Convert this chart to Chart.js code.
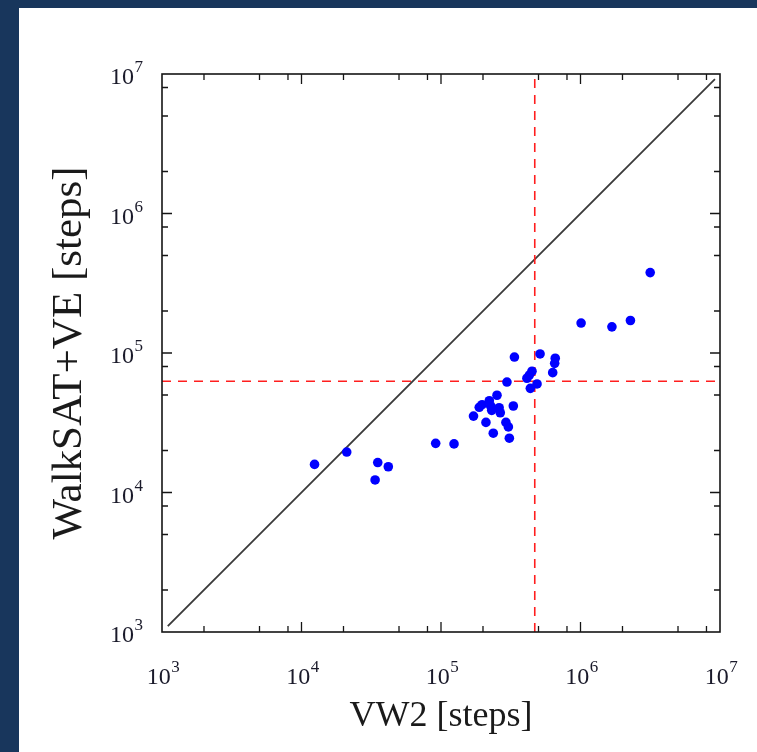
<!DOCTYPE html>
<html>
<head>
<meta charset="utf-8">
<script src="https://cdn.jsdelivr.net/npm/chart.js@4"></script>
<style>
  html, body { margin: 0; padding: 0; background: #18365c; }
  #wrap { position: absolute; left: 19px; top: 8px; width: 738px; height: 744px; background: #fff; }
</style>
</head>
<body>
<div id="wrap"><canvas id="scatterChart" width="738" height="744"></canvas></div>
<script>
// VW2 steps (x) vs WalkSAT+VE steps (y), one entry per instance
const vw2Steps = [
  1.24e4, 2.11e4, 3.52e4, 4.19e4, 3.37e4, 9.16e4, 1.24e5, 1.71e5, 1.88e5, 1.97e5,
  2.22e5, 2.10e5, 2.27e5, 2.31e5, 2.37e5, 2.52e5, 2.61e5, 2.66e5, 2.92e5, 3.04e5,
  3.09e5, 2.97e5, 3.30e5, 3.36e5, 4.13e5, 4.30e5, 4.49e5, 4.37e5, 4.88e5, 5.13e5,
  6.32e5, 6.53e5, 6.59e5, 1.01e6, 1.68e6, 2.28e6, 3.16e6
];
const walksatSteps = [
  1.59e4, 1.95e4, 1.64e4, 1.53e4, 1.23e4, 2.25e4, 2.23e4, 3.53e4, 4.08e4, 4.26e4,
  4.55e4, 3.18e4, 4.17e4, 3.88e4, 2.66e4, 4.98e4, 4.05e4, 3.73e4, 3.18e4, 2.95e4,
  2.45e4, 6.19e4, 4.17e4, 9.35e4, 6.59e4, 6.95e4, 7.40e4, 5.58e4, 6.00e4, 9.84e4,
  7.23e4, 8.43e4, 9.17e4, 1.64e5, 1.54e5, 1.71e5, 3.77e5
];

// reference lines
const diagonalEnds = [1.1e3, 9.2e6];
const vw2Median = 4.7e5;
const walksatMedian = 6.27e4;

// tick labels: base "10" with exponent
const tickValues = [1e3, 1e4, 1e5, 1e6, 1e7];
const tickExponents = ["3", "4", "5", "6", "7"];
const minorMultipliers = [2, 5, 8];

const serif = "'Liberation Serif', 'Times New Roman', serif";
const textColor = "#1a1a2a";

// frame + inward ticks on all four sides, and the 10^n labels
const frameTicks = {
  id: "frameTicks",
  afterDatasetsDraw(chart) {
    const { ctx, chartArea: a, scales: { x, y } } = chart;
    ctx.save();
    ctx.strokeStyle = "#151515";
    ctx.lineWidth = 1.6;
    ctx.strokeRect(a.left, a.top, a.right - a.left, a.bottom - a.top);
    ctx.beginPath();
    ctx.lineWidth = 1.3;
    for (let e = 3; e < 7; e++) {
      [1, ...minorMultipliers].forEach((m) => {
        const v = m * Math.pow(10, e);
        if (m === 1 && e === 3) return;
        const len = m === 1 ? 10 : 6;
        const px = x.getPixelForValue(v);
        const py = y.getPixelForValue(v);
        ctx.moveTo(px, a.bottom); ctx.lineTo(px, a.bottom - len);
        ctx.moveTo(px, a.top); ctx.lineTo(px, a.top + len);
        ctx.moveTo(a.left, py); ctx.lineTo(a.left + len, py);
        ctx.moveTo(a.right, py); ctx.lineTo(a.right - len, py);
      });
    }
    ctx.stroke();

    const baseFont = "24px " + serif;
    const expFont = "17px " + serif;
    ctx.fillStyle = textColor;
    ctx.textBaseline = "alphabetic";
    ctx.textAlign = "left";
    tickValues.forEach((v, i) => {
      const exp = tickExponents[i];
      ctx.font = baseFont;
      const w1 = ctx.measureText("10").width;
      ctx.font = expFont;
      const w2 = ctx.measureText(exp).width;

      // x axis label
      const px = x.getPixelForValue(v);
      const sx = px - (w1 + w2) / 2 + 1;
      const by = a.bottom + 52;
      ctx.font = baseFont;
      ctx.fillText("10", sx, by);
      ctx.font = expFont;
      ctx.fillText(exp, sx + w1 + 0.5, by - 12);

      // y axis label
      const py = y.getPixelForValue(v);
      const ex = a.left - 19 - w2;
      const yb = py + 10;
      ctx.font = baseFont;
      ctx.fillText("10", ex - w1 - 0.5, yb);
      ctx.font = expFont;
      ctx.fillText(exp, ex, yb - 12);
    });
    ctx.restore();
  },
};

const logAxis = (titleText, titleSize, titlePad, fit) => ({
  type: "logarithmic",
  min: 1e3,
  max: 1e7,
  afterBuildTicks: (scale) => {
    scale.ticks = tickValues.map((v) => ({ value: v }));
  },
  afterFit: fit,
  grid: { display: false, drawTicks: false },
  border: { display: false },
  ticks: { display: false },
  title: {
    display: true,
    text: titleText,
    color: "#1a1a1a",
    font: { family: serif, size: titleSize },
    padding: titlePad,
  },
});

const xAxis = logAxis("VW2 [steps]", 36, { top: 0, bottom: 14 }, (s) => { s.height = 120; });
const yAxis = logAxis("WalkSAT+VE [steps]", 43, { top: 25, bottom: 0 }, (s) => { s.width = 143; });

new Chart(document.getElementById("scatterChart").getContext("2d"), {
  type: "scatter",
  data: {
    datasets: [
      {
        label: "instances",
        data: vw2Steps.map((v, i) => ({ x: v, y: walksatSteps[i] })),
        backgroundColor: "rgb(0, 0, 255)",
        borderWidth: 0,
        pointRadius: 4.8,
        order: 0,
      },
      {
        type: "line",
        label: "y = x",
        data: diagonalEnds.map((v) => ({ x: v, y: v })),
        borderColor: "#3a3a3a",
        borderWidth: 1.8,
        pointRadius: 0,
        order: 2,
      },
      {
        type: "line",
        label: "VW2 median",
        data: [{ x: vw2Median, y: 1e3 }, { x: vw2Median, y: 1e7 }],
        borderColor: "rgb(255, 30, 30)",
        borderWidth: 1.6,
        borderDash: [9, 7],
        pointRadius: 0,
        order: 1,
      },
      {
        type: "line",
        label: "WalkSAT+VE median",
        data: [{ x: 1e3, y: walksatMedian }, { x: 1e7, y: walksatMedian }],
        borderColor: "rgb(255, 30, 30)",
        borderWidth: 1.6,
        borderDash: [9, 7],
        pointRadius: 0,
        order: 1,
      },
    ],
  },
  options: {
    responsive: false,
    animation: false,
    layout: { padding: { left: 0, top: 66, right: 37, bottom: 0 } },
    plugins: { legend: { display: false }, tooltip: { enabled: false } },
    scales: { x: xAxis, y: yAxis },
  },
  plugins: [frameTicks],
});
</script>
</body>
</html>
